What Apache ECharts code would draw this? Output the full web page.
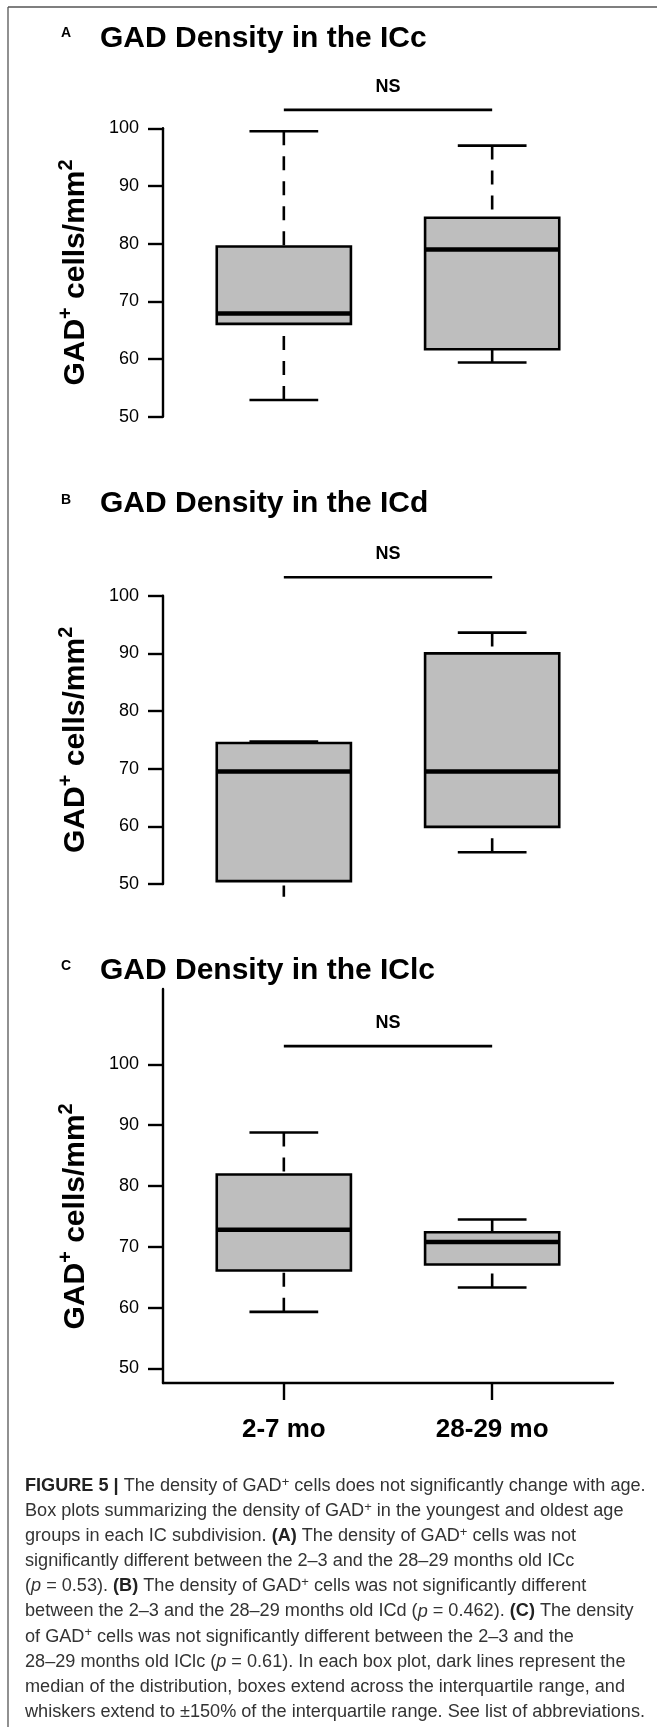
<!DOCTYPE html>
<html><head><meta charset="utf-8">
<script src="https://cdn.jsdelivr.net/npm/echarts@6/dist/echarts.min.js"></script>
<style>html,body{margin:0;padding:0;background:#fff}#chart{width:657px;height:1727px}</style>
</head><body><div id="chart"></div>
<script>
// ---------------- data ----------------
const groups = ['2-7 mo', '28-29 mo'];
const panelLetters = ['A', 'B', 'C'];
const panelTitles = ['GAD Density in the ICc', 'GAD Density in the ICd', 'GAD Density in the IClc'];
// each row: [lower whisker, Q1, median, Q3, upper whisker]
const iccStats  = [[52.9, 66.1, 67.9, 79.5, 99.5], [59.4, 61.7, 79.0, 84.5, 97.0]];
const icdStats  = [[47.3, 50.5, 69.5, 74.45, 74.7], [55.5, 59.9, 69.5, 90.0, 93.6]];
const iclcStats = [[59.3, 66.1, 72.8, 81.9, 88.8], [63.3, 67.1, 70.8, 72.4, 74.5]];
const nsLevels = [103.2, 103.2, 103.0];
const sigLabel = 'NS';
const yTicks = [50, 60, 70, 80, 90, 100];
const yLabelRich = '{m|GAD}{p|+}{m| cells/mm}{p|2}';
const captionLines = [
  '{b|FIGURE 5 |}{n| The density of GAD}{p|+}{n| cells does not significantly change with age.}',
  '{n|Box plots summarizing the density of GAD}{p|+}{n| in the youngest and oldest age}',
  '{n|groups in each IC subdivision. }{b|(A)}{n| The density of GAD}{p|+}{n| cells was not}',
  '{n|significantly different between the 2–3 and the 28–29 months old ICc}',
  '{n|(}{i|p}{n| = 0.53). }{b|(B)}{n| The density of GAD}{p|+}{n| cells was not significantly different}',
  '{n|between the 2–3 and the 28–29 months old ICd (}{i|p}{n| = 0.462). }{b|(C)}{n| The density}',
  '{n|of GAD}{p|+}{n| cells was not significantly different between the 2–3 and the}',
  '{n|28–29 months old IClc (}{i|p}{n| = 0.61). In each box plot, dark lines represent the}',
  '{n|median of the distribution, boxes extend across the interquartile range, and}',
  '{n|whiskers extend to ±150% of the interquartile range. See list of abbreviations.}'
];
const captionFitLine = 'whiskers extend to ±150% of the interquartile range. See list of abbreviations.';

// ---------------- layout / style ----------------
const FF = '"Liberation Sans", Arial, Helvetica, sans-serif';
const panelStats = [iccStats, icdStats, iclcStats];
const gridBoxes = [
  { top: 128.3, height: 288.4, ymin: 50, ymax: 100 },
  { top: 595.7, height: 288.3, ymin: 50, ymax: 100 },
  { top: 989, height: 394, ymin: 47.6, ymax: 112.4 }
];
const titleY = [38.8, 503.3, 970.3];
const letterY = [33.5, 500.5, 966.5];
const BOX_HALF = 0.322, CAP_HALF = 0.165;
const LW = 2.6;

function hasFont(name) {
  const c = document.createElement('canvas').getContext('2d');
  const s = 'abcdefghijklmnopqrstuvwxyz ABCDEFG 0123';
  c.font = '40px monospace'; const a = c.measureText(s).width;
  c.font = '40px "' + name + '", monospace'; const b = c.measureText(s).width;
  return Math.abs(a - b) > 0.5;
}
const capFamily = hasFont('Liberation Sans Narrow') ? '"Liberation Sans Narrow", "Liberation Sans", sans-serif' : FF;
const capSize = (function () {
  const c = document.createElement('canvas').getContext('2d');
  c.font = '20px ' + capFamily;
  return 20 * 620 / c.measureText(captionFitLine).width;
})();

function renderBox(params, api) {
  const cs = params.coordSys;
  const x = api.value(0);
  const lo = api.value(1), q1 = api.value(2), med = api.value(3), q3 = api.value(4), hi = api.value(5);
  const P = (xx, yy) => api.coord([xx, yy]);
  const whisk = { stroke: '#000', lineWidth: LW, lineDash: [14, 11], fill: null };
  const solid = { stroke: '#000', lineWidth: LW, fill: null };
  const tl = P(x - BOX_HALF, q3), br = P(x + BOX_HALF, q1);
  const children = [
    { type: 'line', shape: { x1: P(x, hi)[0], y1: P(x, hi)[1], x2: P(x, q3)[0], y2: P(x, q3)[1] }, style: whisk },
    { type: 'line', shape: { x1: P(x, lo)[0], y1: P(x, lo)[1], x2: P(x, q1)[0], y2: P(x, q1)[1] }, style: whisk },
    { type: 'line', shape: { x1: P(x - CAP_HALF, hi)[0], y1: P(x, hi)[1], x2: P(x + CAP_HALF, hi)[0], y2: P(x, hi)[1] }, style: solid },
    { type: 'line', shape: { x1: P(x - CAP_HALF, lo)[0], y1: P(x, lo)[1], x2: P(x + CAP_HALF, lo)[0], y2: P(x, lo)[1] }, style: solid },
    { type: 'rect', shape: { x: tl[0], y: tl[1], width: br[0] - tl[0], height: br[1] - tl[1] },
      style: { fill: '#bebebe', stroke: '#000', lineWidth: LW } },
    { type: 'line', shape: { x1: tl[0], y1: P(x, med)[1], x2: br[0], y2: P(x, med)[1] }, style: { stroke: '#000', lineWidth: 4.5 } }
  ];
  // the original figure is cropped just below each panel's plotting area
  return {
    type: 'group', children: children,
    clipPath: { type: 'rect', shape: { x: cs.x - 20, y: cs.y - 200, width: cs.width + 40, height: cs.height + 212.7 } }
  };
}
function renderNS(params, api) {
  const a = api.coord([api.value(0), api.value(2)]);
  const b = api.coord([api.value(1), api.value(2)]);
  return {
    type: 'group', children: [
      { type: 'line', shape: { x1: a[0], y1: a[1], x2: b[0], y2: b[1] }, style: { stroke: '#000', lineWidth: LW } },
      { type: 'text', style: { text: sigLabel, x: (a[0] + b[0]) / 2, y: a[1] - 23, align: 'center', verticalAlign: 'middle',
        fontSize: 18, fontWeight: 'bold', fontFamily: FF, fill: '#000' } }
    ]
  };
}

const grids = [], xAxes = [], yAxes = [], series = [], graphics = [];
gridBoxes.forEach((g, i) => {
  grids.push({ left: 163, width: 450, top: g.top, height: g.height });
  const isC = i === 2;
  xAxes.push({
    gridIndex: i, type: 'value', min: 0.42, max: 2.58, show: isC,
    axisLine: { show: true, onZero: false, lineStyle: { color: '#000', width: 2.4 } },
    axisTick: { show: true, customValues: [1, 2], length: 17, lineStyle: { color: '#000', width: 2.4 } },
    axisLabel: { customValues: [1, 2], formatter: v => groups[Math.round(v) - 1], fontSize: 26, fontWeight: 'bold',
      fontFamily: FF, color: '#000', margin: 34 },
    splitLine: { show: false }
  });
  const yA = {
    gridIndex: i, type: 'value', min: g.ymin, max: g.ymax,
    axisLine: { show: true, onZero: false, lineStyle: { color: '#000', width: 2.4 } },
    axisTick: { show: true, length: 15, lineStyle: { color: '#000', width: 2.4 } },
    axisLabel: { fontSize: 18, fontFamily: FF, color: '#000', margin: 24 },
    splitLine: { show: false }
  };
  if (isC) { yA.axisTick.customValues = yTicks; yA.axisLabel.customValues = yTicks; }
  else { yA.interval = 10; }
  yAxes.push(yA);
  series.push({
    type: 'custom', xAxisIndex: i, yAxisIndex: i, clip: false, z: 2,
    data: panelStats[i].map((r, k) => [k + 1].concat(r)),
    encode: { x: 0, y: [1, 2, 3, 4, 5] },
    renderItem: renderBox
  });
  series.push({
    type: 'custom', xAxisIndex: i, yAxisIndex: i, clip: false, z: 2,
    data: [[1, 2, nsLevels[i]]],
    encode: { x: [0, 1], y: 2 },
    renderItem: renderNS
  });
  // titles
  graphics.push({ type: 'text', x: 61, y: letterY[i], style: { text: panelLetters[i], fontSize: 14, fontWeight: 'bold',
    fontFamily: FF, fill: '#000', verticalAlign: 'middle' } });
  graphics.push({ type: 'text', x: 100, y: titleY[i], style: { text: panelTitles[i], fontSize: 30, fontWeight: 'bold',
    fontFamily: FF, fill: '#000', verticalAlign: 'middle' } });
  // y-axis name, centered on the 50–100 range
  const pxPerUnit = g.height / (g.ymax - g.ymin);
  const yc = g.top + (g.ymax - 75) * pxPerUnit;
  graphics.push({ type: 'text', x: 72, y: yc, rotation: Math.PI / 2, style: {
    text: yLabelRich, align: 'center', verticalAlign: 'middle', fill: '#000',
    rich: {
      m: { fontSize: 30, fontWeight: 'bold', fontFamily: FF, lineHeight: 32, padding: [8, 0, 0, 0], fill: '#000' },
      p: { fontSize: 20, fontWeight: 'bold', fontFamily: FF, lineHeight: 20, verticalAlign: 'top', fill: '#000' }
    } } });
});

// figure frame
graphics.push({ type: 'line', shape: { x1: 8, y1: 7, x2: 657, y2: 7 }, style: { stroke: '#555', lineWidth: 1.3 } });
graphics.push({ type: 'line', shape: { x1: 8, y1: 7, x2: 8, y2: 1727 }, style: { stroke: '#555', lineWidth: 1.3 } });

// caption
const cs = capSize;
const capRich = {
  n: { fontSize: cs, fontFamily: capFamily, fill: '#333', lineHeight: cs * 1.15 },
  b: { fontSize: cs, fontFamily: capFamily, fontWeight: 'bold', fill: '#222', lineHeight: cs * 1.15 },
  i: { fontSize: cs, fontFamily: capFamily, fontStyle: 'italic', fill: '#333', lineHeight: cs * 1.15 },
  p: { fontSize: cs * 0.72, fontFamily: capFamily, fill: '#333', lineHeight: cs * 0.75, verticalAlign: 'top' }
};
captionLines.forEach((t, k) => {
  graphics.push({ type: 'text', x: 25, y: 1486 + k * 25.1, style: { text: t, rich: capRich, verticalAlign: 'middle', align: 'left' } });
});

const chart = echarts.init(document.getElementById('chart'), null, { renderer: 'canvas' });
chart.setOption({
  animation: false,
  backgroundColor: '#fff',
  grid: grids, xAxis: xAxes, yAxis: yAxes, series: series,
  graphic: { elements: graphics }
});
</script></body></html>
